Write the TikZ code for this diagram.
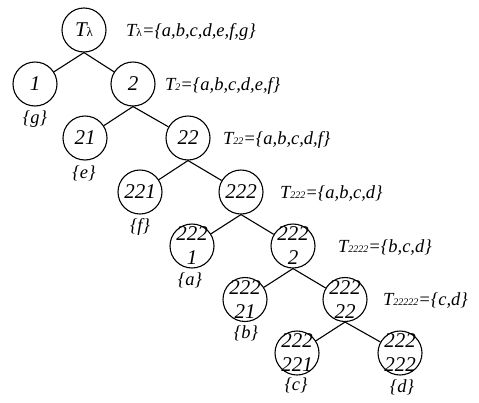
\documentclass[tikz,border=0pt]{standalone}
\usepackage{fontspec}
\setmainfont{Liberation Serif}
% small index written after T
\newcommand\subidx[1]{{\fontsize{10}{10}\selectfont #1}}
\begin{document}
\begin{tikzpicture}[x=1pt,y=-1pt,
  vert/.style={circle,draw,line width=1.1pt,minimum size=44pt,inner sep=0pt},
  num/.style={inner sep=0pt,align=center,font=\fontsize{21}{24}\selectfont\itshape},
  setlbl/.style={anchor=base west,inner sep=0pt,font=\fontsize{18.5}{20}\selectfont\itshape},
  leaf/.style={inner sep=0pt,font=\fontsize{18.5}{20}\selectfont\itshape},
  edge/.style={line width=1.1pt}]
\useasboundingbox (0,0) rectangle (479,402);

% tree vertices
\node[vert] (r)      at (84,30)    {};
\node[vert] (n1)     at (35,84)    {};
\node[vert] (n2)     at (133,84)   {};
\node[vert] (n21)    at (85,138)   {};
\node[vert] (n22)    at (188,138)  {};
\node[vert] (n221)   at (140,192)  {};
\node[vert] (n222)   at (241,192)  {};
\node[vert] (n2221)  at (192,246)  {};
\node[vert] (n2222)  at (293,246)  {};
\node[vert] (n22221) at (245,299.5){};
\node[vert] (n22222) at (345,299.5){};
\node[vert] (n222221) at (297,353) {};
\node[vert] (n222222) at (400,353) {};

% vertex names
\node[num] (r-t)       at (r)       {T{\fontsize{13}{13}\selectfont\upshape λ}};
\node[num] (n1-t)      at (n1)      {1};
\node[num] (n2-t)      at (n2)      {2};
\node[num] (n21-t)     at (n21)     {21};
\node[num] (n22-t)     at (n22)     {22};
\node[num] (n221-t)    at (n221)    {221};
\node[num] (n222-t)    at (n222)    {222};
\node[num] (n2221-t)   at (n2221)   {222\\1};
\node[num] (n2222-t)   at (n2222)   {222\\2};
\node[num] (n22221-t)  at (n22221)  {222\\21};
\node[num] (n22222-t)  at (n22222)  {222\\22};
\node[num] (n222221-t) at (n222221) {222\\221};
\node[num] (n222222-t) at (n222222) {222\\222};

% edges
\foreach \p/\c in {r/n1,r/n2,n2/n21,n2/n22,n22/n221,n22/n222,
                   n222/n2221,n222/n2222,n2222/n22221,n2222/n22222,
                   n22222/n222221,n22222/n222222}
  \draw[edge] (\p.south) -- (\c);

% sets attached to inner vertices
\node[setlbl] (s-r)     at (126,36)  {T{\fontsize{11.5}{11.5}\selectfont\upshape λ}=\{a,b,c,d,e,f,g\}};
\node[setlbl] (s-2)     at (165,90)  {T\subidx{2}=\{a,b,c,d,e,f\}};
\node[setlbl] (s-22)    at (223,144) {T\subidx{22}=\{a,b,c,d,f\}};
\node[setlbl] (s-222)   at (280,198) {T\subidx{222}=\{a,b,c,d\}};
\node[setlbl] (s-2222)  at (338,252) {T\subidx{2222}=\{b,c,d\}};
\node[setlbl] (s-22222) at (383,305) {T\subidx{22222}=\{c,d\}};

% leaf elements
\node[leaf] (l-g) at (35,119)   {\{g\}};
\node[leaf] (l-e) at (84,173)   {\{e\}};
\node[leaf] (l-f) at (140,226.5){\{f\}};
\node[leaf] (l-a) at (190,280)  {\{a\}};
\node[leaf] (l-b) at (246,333)  {\{b\}};
\node[leaf] (l-c) at (296,385)  {\{c\}};
\node[leaf] (l-d) at (402,387)  {\{d\}};
\end{tikzpicture}
\end{document}
